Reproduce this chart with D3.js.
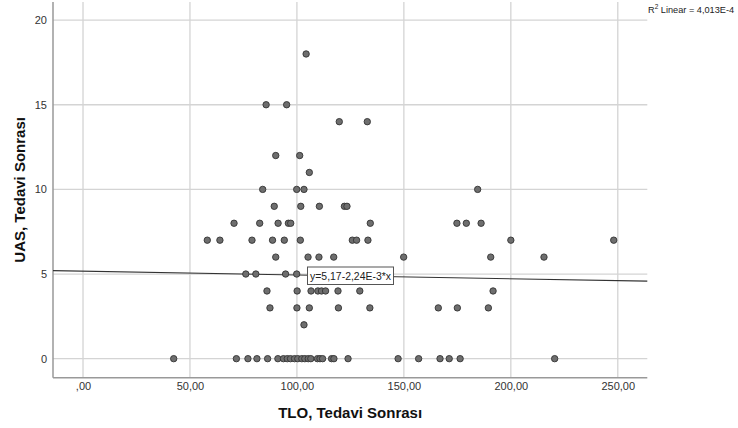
<!DOCTYPE html>
<html><head><meta charset="utf-8">
<script src="https://cdn.jsdelivr.net/npm/d3@7"></script>
<style>body{margin:0;background:#fff}svg{display:block}</style>
</head><body><div id="chart"></div>
<script>
// Data: UAS (integer) rows with TLO values
const row0 = [42.4,71.7,77.1,81.3,86.3,91.1,93.7,95.5,97.0,98.9,100.4,102.3,103.7,105.3,106.5,109.6,110.8,112.0,116.2,117.3,123.9,147.3,156.9,166.9,171.2,176.3,220.5];
const row2 = [103.3];
const row3 = [87.4,100.0,105.8,119.4,134.1,166.1,175.0,189.5];
const row4 = [86.0,100.1,106.6,109.8,111.5,113.4,119.2,129.4,191.7];
const row5 = [76.1,80.8,94.7,99.9];
const row6 = [90.1,105.2,110.3,117.2,149.9,190.6,215.5];
const row7 = [58.1,64.0,79.0,88.6,94.1,101.6,125.9,127.9,133.2,200.0,248.1];
const row8 = [70.6,82.6,91.2,96.0,97.1,134.3,174.8,179.2,186.1];
const row9 = [89.4,101.8,110.5,122.2,123.4];
const row10 = [84.0,99.9,103.3,184.5];
const row11 = [105.8];
const row12 = [90.1,101.3];
const row14 = [119.8,132.9];
const row15 = [85.6,95.2];
const row18 = [104.3];
const rows = [[0,row0],[2,row2],[3,row3],[4,row4],[5,row5],[6,row6],[7,row7],[8,row8],[9,row9],[10,row10],[11,row11],[12,row12],[14,row14],[15,row15],[18,row18]];
const xTicks = [0,50,100,150,200,250];
const xTickLabels = [",00","50,00","100,00","150,00","200,00","250,00"];
const yTicks = [0,5,10,15,20];
const intercept = 5.17, slope = -2.24e-3;
const fitLabel = "y=5,17-2,24E-3*x";
const r2Label = ["R","2"," Linear = 4,013E-4"];
const xTitle = "TLO, Tedavi Sonrası";
const yTitle = "UAS, Tedavi Sonrası";

const points = [];
rows.forEach(([y, xs]) => xs.forEach(x => points.push({x, y})));

const W = 738, H = 428;
const svg = d3.select("#chart").append("svg").attr("width", W).attr("height", H)
  .style("font-family", "'Liberation Sans', Arial, sans-serif");

const L = 53, R = 647.3, T = 2, B = 377.7;
const x = d3.scaleLinear().domain([-14.03, 263.8]).range([L, R]);
const y = d3.scaleLinear().domain([-1.124, 21.07]).range([B, T]);

// grid
const g = svg.append("g");
g.selectAll(".vg").data(xTicks).enter().append("line")
  .attr("x1", d => x(d)).attr("x2", d => x(d)).attr("y1", T).attr("y2", B)
  .attr("stroke", "#d4d4d4").attr("stroke-width", 1.3);
g.selectAll(".hg").data(yTicks).enter().append("line")
  .attr("x1", L).attr("x2", R).attr("y1", d => y(d)).attr("y2", d => y(d))
  .attr("stroke", "#d4d4d4").attr("stroke-width", 1.3);

// axes
const xAxis = d3.axisBottom(x).tickValues(xTicks).tickSize(0).tickPadding(5)
  .tickFormat((d, i) => xTickLabels[i]);
const yAxis = d3.axisLeft(y).tickValues(yTicks).tickSize(0).tickPadding(6)
  .tickFormat(d => d);
const xa = svg.append("g").attr("transform", `translate(0,${B})`).call(xAxis);
const ya = svg.append("g").attr("transform", `translate(${L},0)`).call(yAxis);
[xa, ya].forEach(a => {
  a.select(".domain").remove();
  a.selectAll("text").attr("fill", "#333").style("font-size", "11px")
    .style("font-family", "'Liberation Sans', Arial, sans-serif");
});
svg.append("line").attr("x1", L).attr("x2", L).attr("y1", T).attr("y2", B)
  .attr("stroke", "#999").attr("stroke-width", 1.5);
svg.append("line").attr("x1", L).attr("x2", R).attr("y1", B).attr("y2", B)
  .attr("stroke", "#999").attr("stroke-width", 1.5);

// regression line
const xd = x.domain();
svg.append("line")
  .attr("x1", x(xd[0])).attr("y1", y(intercept + slope * xd[0]))
  .attr("x2", x(xd[1])).attr("y2", y(intercept + slope * xd[1]))
  .attr("stroke", "#333").attr("stroke-width", 1.1);

// points
svg.append("g").selectAll("circle").data(points).enter().append("circle")
  .attr("cx", d => x(d.x)).attr("cy", d => y(d.y)).attr("r", 3.2)
  .attr("fill", "#6e6e6e").attr("stroke", "#333").attr("stroke-width", 0.9);

// fit label
const lblG = svg.append("g");
lblG.append("rect").attr("x", 307.5).attr("y", 267).attr("width", 86).attr("height", 17.5)
  .attr("fill", "#fff").attr("stroke", "#555").attr("stroke-width", 1);
lblG.append("text").attr("x", 310).attr("y", 280).text(fitLabel)
  .attr("textLength", 81).attr("lengthAdjust", "spacingAndGlyphs")
  .style("font-size", "11.5px").attr("fill", "#222");

// R2 label
const r2 = svg.append("text").attr("x", 648).attr("y", 13).style("font-size", "9.2px").attr("fill", "#222");
r2.append("tspan").text(r2Label[0]);
r2.append("tspan").text(r2Label[1]).attr("dy", -4).style("font-size", "6.5px");
r2.append("tspan").text(r2Label[2]).attr("dy", 4);

// titles
svg.append("text").attr("x", (L + R) / 2 + 0).attr("y", 418).attr("text-anchor", "middle")
  .style("font-size", "15px").style("font-weight", "bold").attr("fill", "#111").text(xTitle);
svg.append("text").attr("transform", `translate(25,${(T + B) / 2}) rotate(-90)`).attr("text-anchor", "middle")
  .style("font-size", "15px").style("font-weight", "bold").attr("fill", "#111").text(yTitle);
</script></body></html>
